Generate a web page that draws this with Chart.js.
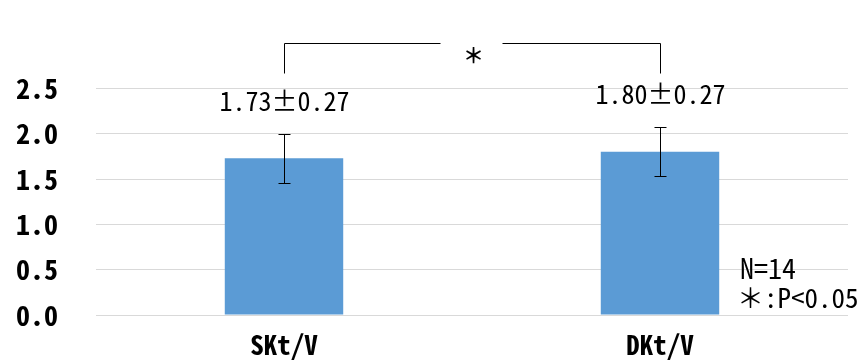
<!DOCTYPE html>
<html>
<head>
<meta charset="utf-8">
<script src="https://cdn.jsdelivr.net/npm/chart.js@4.4.1/dist/chart.umd.min.js"></script>
<style>
  html, body { margin: 0; padding: 0; background: #ffffff; }
  #wrap { width: 862px; height: 362px; }
</style>
</head>
<body>
<div id="wrap"><canvas id="c" width="862" height="362"></canvas></div>
<script>
// Kt/V means and standard deviations
const categories = ['SKt/V', 'DKt/V'];
const means = [1.73, 1.80];
const sds = [0.27, 0.27];
const valueLabels = ['1.73±0.27', '1.80±0.27'];
const yTicks = [0.0, 0.5, 1.0, 1.5, 2.0, 2.5];
const noteLines = ['N=14', '＊:P<0.05'];
const sigMark = '＊';

const FONT = '"Noto Sans Mono CJK JP", "Noto Sans CJK JP", "Noto Sans", sans-serif';

// error bars, value labels, significance bracket and notes
const annotate = {
  id: 'annotate',
  afterDatasetsDraw(chart) {
    const { ctx } = chart;
    const y = chart.scales.y;
    const meta = chart.getDatasetMeta(0);
    ctx.save();
    ctx.strokeStyle = '#000';
    ctx.lineWidth = 1;
    means.forEach((m, i) => {
      const cx = Math.round(meta.data[i].x) + 0.5;
      const yt = Math.round(y.getPixelForValue(m + sds[i])) + 0.5;
      const yb = Math.round(y.getPixelForValue(m - sds[i])) + 0.5;
      ctx.beginPath();
      ctx.moveTo(cx, yt); ctx.lineTo(cx, yb);
      ctx.moveTo(cx - 6, yt); ctx.lineTo(cx + 6, yt);
      ctx.moveTo(cx - 6, yb); ctx.lineTo(cx + 6, yb);
      ctx.stroke();
      ctx.fillStyle = '#000';
      ctx.font = '26px ' + FONT;
      ctx.textAlign = 'center';
      ctx.textBaseline = 'middle';
      ctx.fillText(valueLabels[i], cx, yt - 33);
    });
    // bracket between the two bars
    const x0 = Math.round(meta.data[0].x) + 0.5;
    const x1 = Math.round(meta.data[1].x) + 0.5;
    const top = Math.round(y.getPixelForValue(3.0)) + 0.5;
    const mid = (x0 + x1) / 2;
    ctx.beginPath();
    ctx.moveTo(x0, top + 30); ctx.lineTo(x0, top); ctx.lineTo(mid - 32, top);
    ctx.moveTo(mid + 30, top); ctx.lineTo(x1, top); ctx.lineTo(x1, top + 30);
    ctx.stroke();
    ctx.font = 'bold 21px ' + FONT;
    ctx.textAlign = 'center';
    ctx.textBaseline = 'middle';
    ctx.fillText(sigMark, mid + 1, top + 12);
    // notes
    ctx.textAlign = 'left';
    ctx.font = '28px ' + FONT;
    ctx.fillText(noteLines[0], 740, 268);
    ctx.font = '27px ' + FONT;
    ctx.fillText(noteLines[1], 737, 298);
    ctx.restore();
  }
};

new Chart(document.getElementById('c'), {
  type: 'bar',
  data: {
    labels: categories,
    datasets: [{
      data: means,
      backgroundColor: '#5b9bd5',
      borderWidth: 0,
      barPercentage: 0.63,
      categoryPercentage: 0.5
    }]
  },
  options: {
    responsive: false,
    animation: false,
    events: [],
    layout: { padding: { top: 43, right: 14, left: 0, bottom: 0 } },
    plugins: { legend: { display: false }, tooltip: { enabled: false } },
    scales: {
      x: {
        grid: { display: false },
        border: { display: false },
        ticks: { color: '#000', font: { family: FONT, size: 27, weight: 'bold' }, padding: 6 },
        afterFit(s) { s.height = 47; s.paddingLeft = 0; s.paddingRight = 0; }
      },
      y: {
        min: 0, max: 3.0,
        afterBuildTicks(s) { s.ticks = yTicks.concat([3.0]).map(v => ({ value: v })); },
        grid: {
          color: c => (c.tick && c.tick.value === 3.0) ? 'rgba(0,0,0,0)' : '#d9d9d9',
          lineWidth: 1,
          drawTicks: false
        },
        border: { display: false },
        ticks: {
          color: '#000',
          font: { family: FONT, size: 28, weight: 'bold' },
          padding: 38,
          callback: v => (v === 3.0 ? '' : v.toFixed(1))
        },
        afterFit(s) { s.width = 96; s.paddingTop = 0; s.paddingBottom = 0; }
      }
    }
  },
  plugins: [annotate]
});
</script>
</body>
</html>
